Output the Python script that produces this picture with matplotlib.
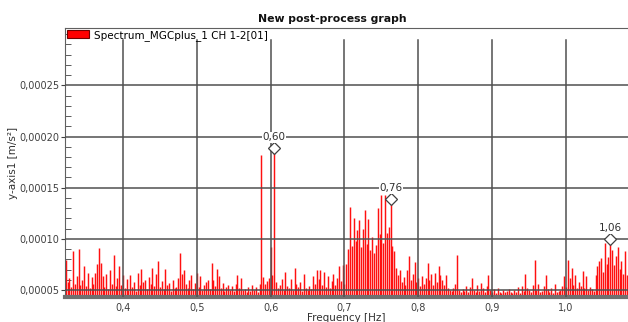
import numpy as np
import matplotlib
matplotlib.use("Agg")
import matplotlib.pyplot as plt
from matplotlib.patches import Patch
from matplotlib.ticker import FuncFormatter, MultipleLocator

# spectrum amplitudes in 1e-5 m/s^2, one bin every 0.0025 Hz starting at 0.3225 Hz
f_start = 0.3225
df = 0.0025
amp = [
    7.9, 5.8, 6.2, 5.3, 8.8, 5.6, 6.4, 9.0, 5.5, 6.0, 7.3, 5.4, 6.7, 5.2, 6.3, 5.6, 6.7, 7.5, 9.1, 7.6,
    6.4, 5.3, 6.6, 5.1, 7.0, 5.6, 8.4, 5.4, 6.2, 7.3, 5.5, 6.5, 5.2, 6.1, 5.0, 6.5, 5.3, 5.8, 4.9, 6.7,
    5.5, 7.1, 5.8, 6.0, 5.1, 6.3, 5.6, 7.2, 5.4, 6.6, 7.8, 5.3, 5.9, 5.1, 7.1, 5.5, 5.7, 4.9, 6.0, 5.2,
    5.3, 6.2, 8.6, 6.6, 7.0, 5.6, 5.2, 6.0, 6.5, 5.1, 5.7, 6.7, 5.3, 6.4, 5.0, 5.5, 5.8, 6.0, 5.1, 7.6,
    6.0, 5.4, 7.1, 6.4, 5.2, 5.7, 4.9, 5.3, 5.5, 5.0, 5.4, 4.9, 5.6, 6.5, 5.2, 6.2, 5.0, 5.1, 4.8, 5.3,
    4.9, 5.5, 5.0, 5.3, 4.8, 5.6, 18.2, 6.3, 5.6, 5.9, 6.2, 9.2, 6.5, 18.9, 5.8, 5.2, 5.5, 6.1, 5.0, 6.8,
    5.4, 5.2, 6.1, 5.0, 7.2, 5.6, 5.3, 5.8, 4.9, 6.6, 5.2, 5.0, 5.4, 5.1, 6.4, 5.6, 7.0, 6.1, 7.0, 5.5,
    6.8, 5.3, 6.4, 5.2, 5.9, 6.6, 5.5, 6.2, 7.3, 5.9, 7.4, 5.6, 7.5, 9.0, 13.1, 9.3, 12.0, 9.8, 10.9, 11.8,
    9.2, 11.0, 12.8, 9.5, 11.9, 8.9, 10.2, 8.6, 9.4, 13.0, 10.5, 14.3, 9.6, 14.3, 10.6, 11.2, 13.9, 9.3, 8.8, 7.2,
    6.5, 7.0, 5.8, 6.3, 5.5, 7.0, 8.3, 6.0, 6.6, 7.7, 5.8, 6.2, 5.4, 6.4, 5.6, 6.2, 7.6, 6.0, 6.6, 5.5,
    6.7, 5.8, 7.3, 6.5, 6.0, 5.5, 6.5, 5.2, 5.0, 4.9, 5.2, 5.6, 8.4, 5.0, 4.8, 5.1, 4.9, 5.4, 4.8, 5.3,
    6.2, 5.0, 4.8, 5.5, 4.9, 5.7, 5.2, 4.8, 5.4, 6.5, 5.0, 4.8, 5.1, 4.7, 5.2, 4.8, 4.7, 5.0, 4.8, 4.9,
    5.1, 4.8, 4.7, 5.0, 4.8, 5.3, 4.7, 5.4, 4.9, 6.6, 5.2, 5.0, 4.8, 5.5, 7.9, 5.0, 5.6, 4.8, 4.9, 5.4,
    6.5, 5.1, 4.8, 5.2, 4.7, 5.6, 4.8, 4.9, 5.0, 5.4, 6.4, 5.3, 7.9, 6.2, 7.2, 5.5, 6.5, 5.2, 5.8, 5.4,
    6.9, 5.2, 6.4, 5.0, 5.3, 5.1, 4.9, 6.5, 7.3, 7.8, 8.1, 6.8, 9.6, 7.5, 8.2, 10.0, 8.9, 7.4, 8.3, 9.2,
    7.1, 7.8, 6.6, 8.8, 6.5, 7.0,
]
peak_freq = [0.605, 0.7625, 1.06]
peak_labels = ["0,60", "0,76", "1,06"]
xticks = [0.4, 0.5, 0.6, 0.7, 0.8, 0.9, 1.0]
yticks = [0.00005, 0.0001, 0.00015, 0.0002, 0.00025]

freq = np.round(f_start + df * np.arange(len(amp)), 4)
amp = np.array(amp) * 1e-5
ybot, ytop = 0.0000432, 0.000306

fig = plt.figure(figsize=(6.28, 3.22), dpi=100)
ax = fig.add_axes([65 / 628, 1 - 297 / 322, 1 - 65 / 628, (297 - 28) / 322])

ax.vlines(freq, ybot, amp, color="#ff1010", lw=1.05, zorder=2)

# grid: vertical lines stop below the legend band
for x in xticks:
    ax.axvline(x, ymax=0.955, color="#505050", lw=1.1, zorder=3)
for y in yticks:
    ax.axhline(y, color="#505050", lw=1.1, zorder=3)

# peak markers
for pf, lab in zip(peak_freq, peak_labels):
    i = int(np.argmin(np.abs(freq - pf)))
    ax.plot(freq[i], amp[i], marker="D", ms=6, mfc="white", mec="#404040", mew=0.9, zorder=5)
    ax.annotate(lab, (freq[i], amp[i]), xytext=(0, 4), textcoords="offset points",
                ha="center", va="bottom", fontsize=7.5, color="#303030", zorder=6,
                bbox=dict(boxstyle="square,pad=0.05", fc="white", ec="none"))

ax.set_xlim(0.3216, 1.084)
ax.set_ylim(ybot, ytop)
ax.set_xticks(xticks)
ax.set_yticks(yticks)
ax.yaxis.set_minor_locator(MultipleLocator(0.00001))
ax.xaxis.set_major_formatter(FuncFormatter(lambda v, p: f"{v:.1f}".replace(".", ",")))
ax.yaxis.set_major_formatter(FuncFormatter(lambda v, p: f"{v:.5f}".replace(".", ",")))
ax.tick_params(axis="y", which="major", direction="out", length=3, labelsize=7, colors="#404040", pad=1)
ax.tick_params(axis="y", which="minor", direction="in", length=4, colors="#404040")
ax.tick_params(axis="x", which="major", direction="in", length=3, labelsize=7, colors="#404040", pad=4)

ax.spines["right"].set_visible(False)
ax.spines["top"].set_color("#606060")
ax.spines["left"].set_color("#606060")
ax.spines["bottom"].set_color("#707070")
ax.spines["bottom"].set_linewidth(3)

ax.set_xlabel("Frequency [Hz]", fontsize=7.5, color="#303030", labelpad=0)
ax.set_ylabel("y-axis1 [m/s²]", fontsize=7.5, color="#303030", labelpad=1)
fig.text(332 / 628, 1 - 19 / 322, "New post-process graph", ha="center", va="center",
         fontsize=7.8, fontweight="bold", color="#111111")

leg_handle = Patch(facecolor="#ff0000", edgecolor="#700000", lw=0.8)
ax.legend([leg_handle], ["Spectrum_MGCplus_1 CH 1-2[01]"], loc="upper left", frameon=False,
          fontsize=7.5, handlelength=2.1, handleheight=0.8, handletextpad=0.5,
          borderaxespad=0.1, borderpad=0.1)

fig.savefig("out.png", dpi=100)
